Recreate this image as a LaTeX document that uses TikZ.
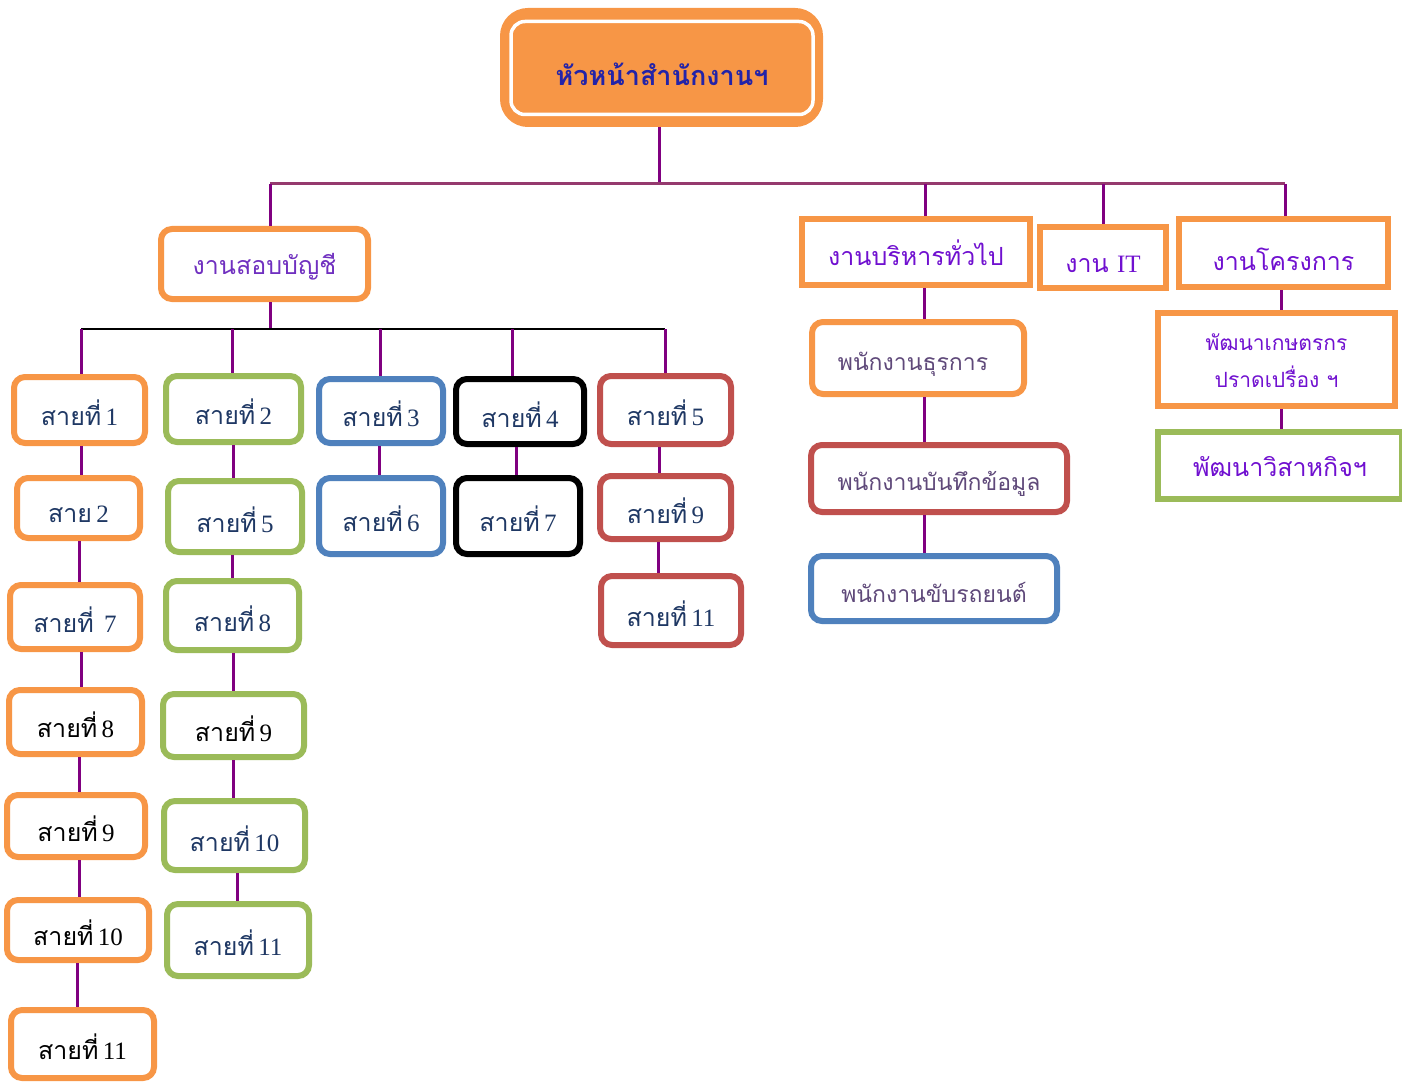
\documentclass[tikz,border=0pt]{standalone}
\usepackage{fontspec}
\setmainfont{Liberation Serif}
\newfontfamily\thai[Script=Thai]{Loma}
\definecolor{org}{HTML}{F79646}
\definecolor{grn}{HTML}{9BBB59}
\definecolor{blu}{HTML}{4F81BD}
\definecolor{rd}{HTML}{C0504D}
\definecolor{navy}{HTML}{1F3864}
\definecolor{ttl}{HTML}{2323A8}
\definecolor{vio}{HTML}{7030C0}
\definecolor{vio2}{HTML}{7010D0}
\definecolor{gp}{HTML}{5F497A}
\definecolor{cn}{HTML}{800080}
\definecolor{busc}{HTML}{953A6E}
\newcommand\bx[8][-3pt]{\node[#3, minimum width={#6-#4-6}, minimum height={#7-#5-6}] (#2) at ({(#4+#6)/2},{(#5+#7)/2}) {\raisebox{#1}[\height][\depth]{#8}};}
\newcommand\sai[1]{{\thai สายที่}\,#1}
\tikzset{
  rbox/.style={draw, rounded corners=11pt, line width=6pt, fill=white, align=center, inner sep=0pt, text=navy, font=\fontsize{25}{28}\selectfont},
  sqbox/.style={draw=org, line width=6pt, fill=white, align=center, inner sep=0pt, text=vio2, font=\fontsize{25}{30}\selectfont\thai},
  ob/.style={rbox, draw=org},
  gb/.style={rbox, draw=grn},
  bb/.style={rbox, draw=blu},
  kb/.style={rbox, draw=black},
  rb/.style={rbox, draw=rd},
  staff/.style={rbox, text=gp, font=\fontsize{23}{26}\selectfont\thai},
  conn/.style={draw=cn, line width=3pt},
  bus/.style={draw=busc, line width=3pt},
  kbus/.style={draw=black, line width=2.5pt}
}
\begin{document}
\begin{tikzpicture}[x=1pt,y=-1pt]
\useasboundingbox (0,0) rectangle (1402,1083);
% head
\node[draw=org, fill=org, line width=12pt, rounded corners=22pt, minimum width=311, minimum height=107] (head) at (661.5,67.5) {};
\node[draw=white, line width=3.5pt, rounded corners=14pt, minimum width=302, minimum height=93, text=ttl, font=\fontsize{27}{30}\selectfont\thai\bfseries] (headt) at (662,68) {\raisebox{-6pt}[\height][\depth]{หัวหน้าสำนักงานฯ}};
% level 2
\bx{sob}{ob, text=vio, font=\fontsize{25}{30}\selectfont\thai}{158}{226}{371}{302}{งานสอบบัญชี}
\bx[-1pt]{adm}{sqbox}{799}{216}{1033}{288}{งานบริหารทั่วไป}
\bx[-7pt]{it}{sqbox}{1037}{224}{1169}{291}{งาน {\rmfamily IT}}
\bx[-6pt]{prj}{sqbox}{1176}{216}{1391}{290}{งานโครงการ}
% column 1
\bx{a1}{ob}{11}{374}{148}{446}{\sai{1}}
\bx[-6pt]{a2}{ob}{14}{475}{143}{541}{{\thai สาย}\,2}
\bx{a3}{ob}{7}{582}{143}{652}{\sai{\ 7}}
\bx{a4}{ob, text=black}{6}{687}{145}{757}{\sai{8}}
\bx{a5}{ob, text=black}{4}{792}{148}{860}{\sai{9}}
\bx{a6}{ob, text=black}{4}{897}{152}{963}{\sai{10}}
\bx{a7}{ob, text=black}{8}{1007}{157}{1081}{\sai{11}}
% column 2
\bx{b1}{gb}{163}{373}{304}{445}{\sai{2}}
\bx{b2}{gb}{165}{478}{305}{555}{\sai{5}}
\bx{b3}{gb}{163}{578}{302}{653}{\sai{8}}
\bx{b4}{gb, text=black}{160}{691}{307}{760}{\sai{9}}
\bx{b5}{gb}{161}{798}{308}{873}{\sai{10}}
\bx{b6}{gb}{164}{901}{312}{979}{\sai{11}}
% column 3
\bx{c1}{bb}{316}{376}{446}{446}{\sai{3}}
\bx{c2}{bb}{316}{475}{446}{557}{\sai{6}}
% column 4
\bx{d1}{kb}{453}{376}{587}{447}{\sai{4}}
\bx{d2}{kb}{453}{475}{583}{557}{\sai{7}}
% column 5
\bx{e1}{rb}{597}{373}{734}{447}{\sai{5}}
\bx{e2}{rb}{597}{473}{734}{542}{\sai{9}}
\bx{e3}{rb}{598}{573}{744}{648}{\sai{11}}
% admin staff
\bx[-6pt]{s1}{staff, draw=org}{809}{319}{1027}{397}{พนักงานธุรการ\hspace{10pt}}
\bx[-5pt]{s2}{staff, draw=rd}{808}{442}{1070}{515}{พนักงานบันทึกข้อมูล}
\bx[-4pt]{s3}{staff, draw=blu}{808}{553}{1060}{624}{พนักงานขับรถยนต์}
% projects
\bx[-2pt]{p1}{sqbox, font=\fontsize{21}{37}\selectfont\thai}{1155}{310}{1398}{409}{\begin{tabular}{@{}c@{}}พัฒนาเกษตรกร\\ปราดเปรื่อง ฯ\end{tabular}}
\bx[-1pt]{p2}{sqbox, draw=grn}{1155}{429}{1405}{502}{พัฒนาวิสาหกิจฯ}
% bus coordinates
\coordinate (busL) at (270,184);
\coordinate (busR) at (1285,184);
\coordinate (kL) at (81,329);
\coordinate (kR) at (665,329);
% connectors
\draw[conn] (659,0 |- head.south) -- (659,0 |- busL);
\draw[bus] (busL) -- (busR);
\draw[conn] (busL) -- (busL |- sob.north);
\draw[conn] (925,0 |- busL) -- (925,0 |- adm.north);
\draw[conn] (1103,0 |- busL) -- (1103,0 |- it.north);
\draw[conn] (busR) -- (busR |- prj.north);
\draw[conn] (busL |- sob.south) -- (busL |- kL);
\draw[kbus] (kL) -- (kR);
\foreach \x/\v in {81/a1,232/b1,380/c1,512/d1,665/e1}
  \draw[conn] (\x,0 |- kL) -- (\x,0 |- \v.north);
\foreach \u/\v/\x in {a1/a2/81,a2/a3/79,a3/a4/81,a4/a5/79,a5/a6/79,a6/a7/77,b1/b2/233,b2/b3/232,b3/b4/233,b4/b5/233,b5/b6/237,c1/c2/379,d1/d2/516,e1/e2/659,e2/e3/658,adm/s1/924,s1/s2/924,s2/s3/924,prj/p1/1281,p1/p2/1281}
  \draw[conn] (\x,0 |- \u.south) -- (\x,0 |- \v.north);
\end{tikzpicture}
\end{document}
